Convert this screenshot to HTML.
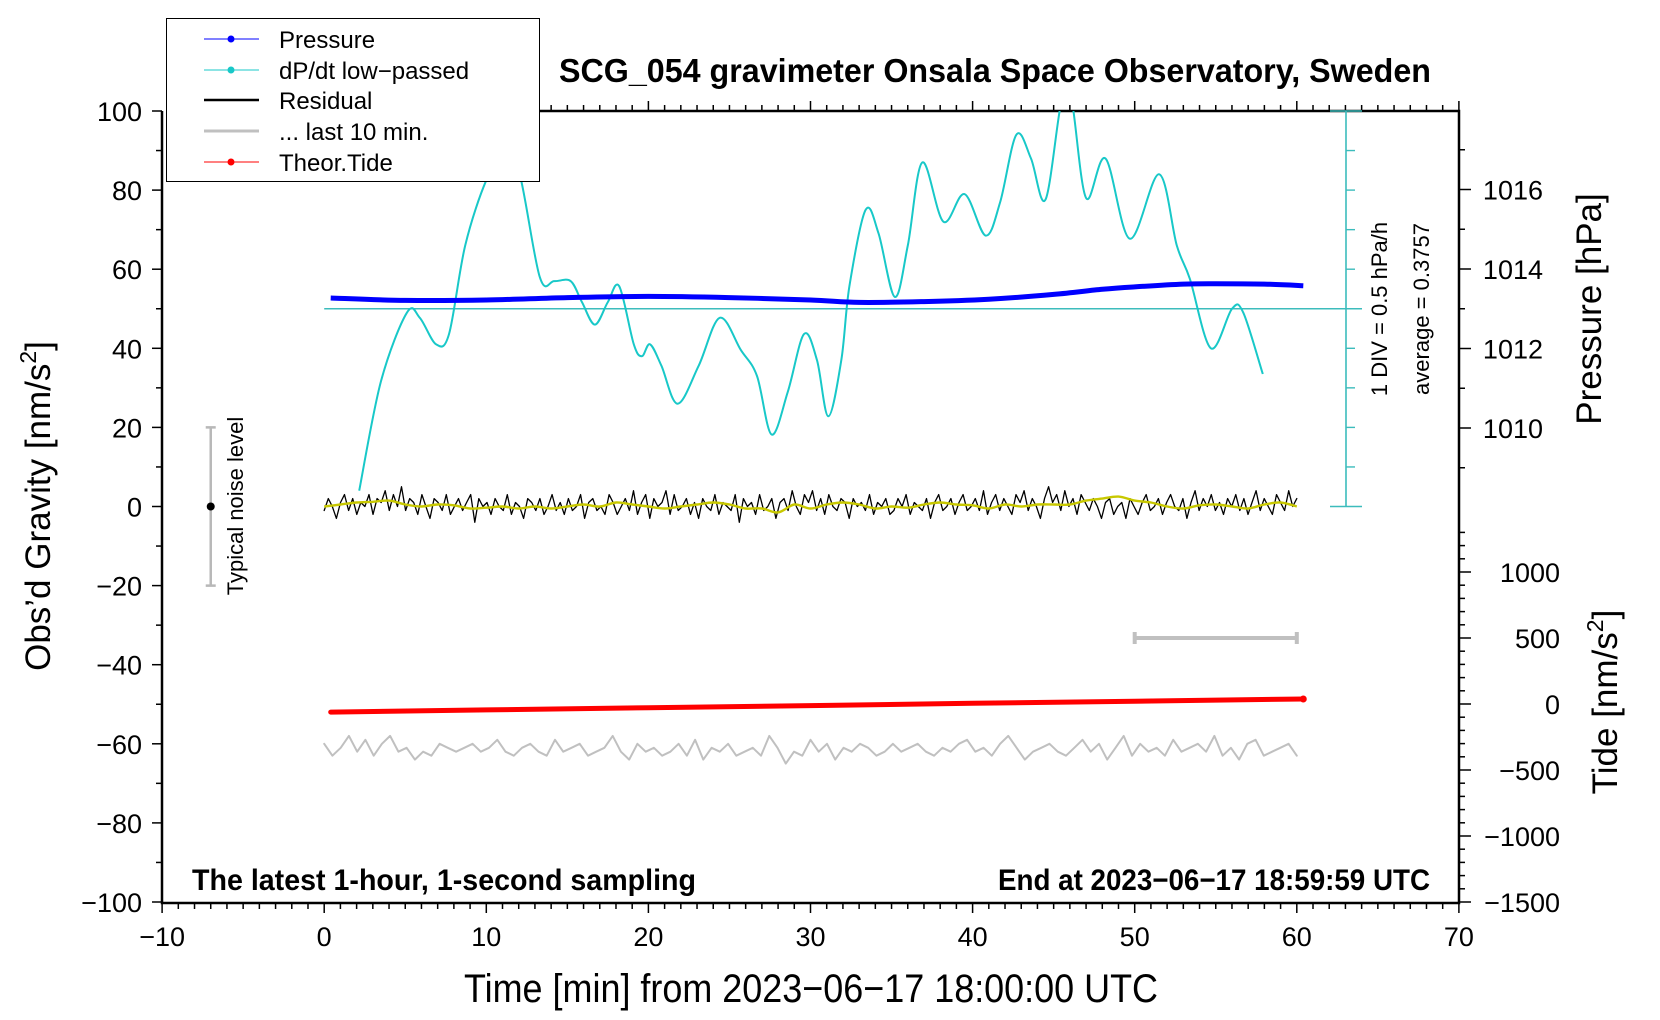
<!DOCTYPE html>
<html><head><meta charset="utf-8"><style>
html,body{margin:0;padding:0;background:#fff;}
svg{display:block;font-family:"Liberation Sans",sans-serif;}
</style></head><body>
<svg id="chart" width="1660" height="1020" viewBox="0 0 1660 1020" xmlns="http://www.w3.org/2000/svg">
<defs><clipPath id="plotclip"><rect x="162" y="111" width="1297" height="792"/></clipPath></defs>
<g id="axes"></g>
<g id="series" clip-path="url(#plotclip)"></g>
<g id="labels"></g>
</svg>
<script>
// ---- data ----
const xTicks=[-10,0,10,20,30,40,50,60,70];
const yTicks=[-100,-80,-60,-40,-20,0,20,40,60,80,100];
const pTicks=[1010,1012,1014,1016];
const tideTicks=[-1500,-1000,-500,0,500,1000];
// pressure in hPa vs minute
const pressTimes=[0.4,5,10,15,20,25,30,33,37,41,45,48,50,53,55,58,60.4];
const pressVals=[1013.27,1013.21,1013.22,1013.28,1013.31,1013.28,1013.22,1013.16,1013.18,1013.24,1013.36,1013.49,1013.55,1013.62,1013.63,1013.62,1013.58];
// dP/dt low-passed (in gravity axis units; centre line 50 = average)
const dpTimes=[2.16,3.5,5.1,5.9,6.9,7.7,8.7,10,11,12,13.3,14.2,15.2,15.9,16.7,17.5,18.2,19.1,19.6,20.1,20.8,21.8,23.1,24.4,25.7,26.7,27.6,28.6,29.6,30.4,31.1,31.9,32.4,33.4,34.2,35.2,36,36.9,38.2,39.5,40.8,41.7,42.7,43.6,44.5,45.5,46.1,47,48.2,49.7,51.5,52.6,53.4,54.7,56,56.7,57.9];
const dpVals=[4,31.6,49,47.7,41,43.6,66,82.5,88,85,58,57,57,51.7,46,51.7,55.7,41,38,41,35.6,26,35.6,47.7,39.6,33,18.2,29,43.6,37,22.8,37,55.7,75,69,53,66,87,72,79,68.5,77,94,88,77.6,103,103,78,88,67.7,84,66,57.6,40,50,49,33.5];
const dpMean=50;
// residual (nm/s^2), every 15 s
const resid=[
-1,2,0,-3,1,3,-1,2,-2,1,0,3,-2,2,1,4,-1,3,0,5,
-1,2,1,-2,3,0,-3,2,1,-1,3,-2,0,2,-1,1,3,-4,2,0,
1,-2,2,0,-1,3,-2,1,0,-3,2,1,-1,2,-2,0,3,-1,1,-2,
2,-1,0,3,-3,1,2,-1,0,-2,3,1,-2,0,2,-1,4,-2,1,3,
-3,2,0,1,4,-2,3,-1,0,2,-2,1,-3,2,0,-1,3,-2,1,0,
-1,3,-4,2,0,1,-2,3,-1,0,2,-3,1,2,-1,4,0,-2,3,1,
4,-1,2,-2,3,0,-1,2,1,-3,2,0,1,-1,3,-2,1,0,2,-2,
-1,2,0,3,-2,1,0,-1,2,-3,1,3,-1,0,2,-2,1,3,-1,0,
2,-1,4,-2,1,3,-1,2,0,-2,3,1,4,-1,2,0,-3,2,5,1,
3,-1,4,0,2,-2,3,1,-1,2,0,-3,1,2,-2,0,1,-3,2,0,
-2,1,3,-1,0,2,-2,1,3,0,-1,2,-3,1,4,-1,2,0,3,-1,
1,-2,2,0,3,-1,2,-2,1,4,-1,2,0,-2,3,1,-1,4,0,2];
// smoothed residual, per minute
const smooth=[0,0.5,1,1.2,1.5,0.5,0,0.5,0.3,-0.5,-0.3,0,-0.5,0,-0.5,0,0.5,0,1,0.5,
0,-0.5,0,0.5,1,0.5,-0.5,-0.5,-1.5,0.5,-0.5,0.5,1,0.5,-0.5,0,-0.3,0.5,1,0.5,
0.3,-0.5,0.5,0,0.5,0.5,0.5,1.5,2,2.5,1.5,1,0,-0.5,0.3,0.5,0,-0.5,0.5,1,0];
// last 10 min residual shown magnified (gravity axis units)
const lastTen=[-60,-63,-61,-58,-62,-59,-63,-60,-58,-62,-61,-64,-62,-63,-60,-61,-62,-61,-60,-62,
-61,-59,-62,-63,-61,-60,-62,-63,-59,-62,-61,-60,-63,-62,-61,-58,-62,-64,-60,-62,
-61,-63,-62,-60,-63,-59,-64,-61,-62,-60,-63,-62,-61,-63,-58,-61,-65,-62,-63,-59,
-62,-60,-64,-61,-62,-60,-61,-63,-62,-60,-62,-61,-60,-62,-63,-61,-62,-60,-59,-62,
-61,-63,-60,-58,-61,-64,-62,-61,-60,-62,-63,-61,-59,-62,-60,-64,-61,-58,-63,-60,
-62,-61,-63,-59,-62,-61,-60,-62,-58,-63,-61,-64,-60,-59,-63,-62,-61,-60,-63];
// theoretical tide (nm/s^2) vs minute
const tideTimes=[0.4,10,20,30,40,50,60.4];
const tideVals=[-61,-45,-28,-12,5,21,38];

// ---- scales ----
const X=t=>324.2+t*16.21;
const G=v=>506.5-v*3.955;
const P=p=>428-(p-1010)*39.75;
const T=v=>704-v*0.132;
const NS="http://www.w3.org/2000/svg";
function mk(tag,attrs,parent){const e=document.createElementNS(NS,tag);for(const k in attrs)e.setAttribute(k,attrs[k]);parent.appendChild(e);return e;}
const axes=document.getElementById('axes'),series=document.getElementById('series'),labels=document.getElementById('labels');
function txt(s,x,y,size,anchor,parent){const e=mk('text',{x:x,y:y,'font-size':size,'text-anchor':anchor||'middle',fill:'#000'},parent);e.textContent=s;return e;}

let el;
el=mk('path',{d:'M162 111 V903 H1459 V111 H539',fill:'none',stroke:'#000','stroke-width':2.5},axes);



for(let t=-10;t<=70;t++){const x=X(t);const maj=t%10===0;
 mk('line',{x1:x,y1:903,x2:x,y2:903+(maj?10:6),stroke:'#000','stroke-width':1.5},axes);
 if(x>545) mk('line',{x1:x,y1:111,x2:x,y2:111-(maj?10:6),stroke:'#000','stroke-width':1.5},axes);}
xTicks.forEach(t=>{el=txt(t<0?'\u2212'+(-t):String(t),X(t),946,27,'middle',labels);
 
 });
for(let v=-100;v<=100;v+=10){const y=G(v);mk('line',{x1:162,y1:y,x2:v%20===0?152:156,y2:y,stroke:'#000','stroke-width':1.5},axes);}
yTicks.forEach(v=>{el=txt(v<0?'\u2212'+(-v):String(v),142,G(v)+10,27,'end',labels);
 
 });
for(let p=1009;p<=1017;p++){const y=P(p);mk('line',{x1:1459,y1:y,x2:p%2===0?1471:1465,y2:y,stroke:'#000','stroke-width':1.5},axes);}
pTicks.forEach(p=>{el=txt(String(p),1543,P(p)+10,27,'end',labels);
 
 });
for(let v=-1500;v<=1300;v+=100){const y=T(v);mk('line',{x1:1459,y1:y,x2:v%500===0?1471:1465,y2:y,stroke:'#000','stroke-width':1.5},axes);}
tideTicks.forEach(v=>{el=txt(v<0?'\u2212'+(-v):String(v),1560,T(v)+10,27,'end',labels);
 
 });
el=mk('path',{d:'M1346 111 V506.5 M1330 111 H1362 M1330 506.5 H1362',stroke:'#3cbcbc','stroke-width':1.6,fill:'none'},axes);


for(let i=1;i<10;i++){const y=111+i*39.55;mk('line',{x1:1346,y1:y,x2:1355,y2:y,stroke:'#3cbcbc','stroke-width':1.4},axes);}
el=mk('line',{x1:X(0),y1:G(dpMean),x2:1362,y2:G(dpMean),stroke:'#3cbcbc','stroke-width':1.6},axes);



function poly(xs,ys,stroke,w,name){const pts=xs.map((x,i)=>x.toFixed(1)+','+ys[i].toFixed(1)).join(' ');
 const e=mk('polyline',{points:pts,fill:'none',stroke:stroke,'stroke-width':w,'stroke-linejoin':'round','stroke-linecap':'round'},series);
 
 return e;}
function smoothPath(xs,ys,stroke,w,name){let d='M'+xs[0].toFixed(1)+' '+ys[0].toFixed(1);
 for(let i=0;i<xs.length-1;i++){const i0=Math.max(0,i-1),i3=Math.min(xs.length-1,i+2);
  const c1x=xs[i]+(xs[i+1]-xs[i0])/6,c1y=ys[i]+(ys[i+1]-ys[i0])/6;
  const c2x=xs[i+1]-(xs[i3]-xs[i])/6,c2y=ys[i+1]-(ys[i3]-ys[i])/6;
  d+=` C${c1x.toFixed(1)} ${c1y.toFixed(1)} ${c2x.toFixed(1)} ${c2y.toFixed(1)} ${xs[i+1].toFixed(1)} ${ys[i+1].toFixed(1)}`;}
 const e=mk('path',{d:d,fill:'none',stroke:stroke,'stroke-width':w,'stroke-linejoin':'round'},series);
 
 return e;}
smoothPath(dpTimes.map(X),dpVals.map(G),'#18c8c8',2,'dpdt-line');
smoothPath(pressTimes.map(X),pressVals.map(P),'#0000ff',5,'pressure-line');
poly(resid.map((v,i)=>X(i*60/(resid.length-1))),resid.map(G),'#000',1.3,'residual-line');
smoothPath(smooth.map((v,i)=>X(i)),smooth.map(G),'#c8c800',2.4,'residual-smoothed-line');
poly(lastTen.map((v,i)=>X(i*60/(lastTen.length-1))),lastTen.map(G),'#c0c0c0',2,'last-10-min-line');
poly(tideTimes.map(X),tideVals.map(T),'#ff0000',5,'tide-line');
el=mk('circle',{cx:X(60.4),cy:T(38),r:3.5,fill:'#ff0000'},series);


el=mk('path',{d:`M${X(50)} ${T(500)} H${X(60)} M${X(50)} ${T(500)-6} V${T(500)+6} M${X(60)} ${T(500)-6} V${T(500)+6}`,stroke:'#c0c0c0','stroke-width':4,fill:'none'},series);


el=mk('path',{d:`M${X(-7)} ${G(20)} V${G(-20)} M${X(-7)-5} ${G(20)} H${X(-7)+5} M${X(-7)-5} ${G(-20)} H${X(-7)+5}`,stroke:'#b8b8b8','stroke-width':2.5,fill:'none'},series);


el=mk('circle',{cx:X(-7),cy:G(0),r:4,fill:'#000'},series);


</script>
<svg width="1660" height="1020" style="position:absolute;left:0;top:0" xmlns="http://www.w3.org/2000/svg">
<text x="995" y="82" font-size="33" font-weight="bold" text-anchor="middle" textLength="872" lengthAdjust="spacingAndGlyphs">SCG_054 gravimeter Onsala Space Observatory, Sweden</text>
<text x="192" y="890" font-size="30" font-weight="bold" textLength="504" lengthAdjust="spacingAndGlyphs">The latest 1-hour, 1-second sampling</text>
<text x="1430" y="890" font-size="30" font-weight="bold" text-anchor="end" textLength="432" lengthAdjust="spacingAndGlyphs">End at 2023−06−17 18:59:59 UTC</text>
<text x="811" y="1002" font-size="40" text-anchor="middle" textLength="694" lengthAdjust="spacingAndGlyphs">Time [min] from 2023−06−17 18:00:00 UTC</text>
<text transform="translate(50,506) rotate(-90)" font-size="35" text-anchor="middle">Obs’d Gravity [nm/s<tspan font-size="23" dy="-14">2</tspan><tspan dy="14">]</tspan></text>
<text transform="translate(1601,309) rotate(-90)" font-size="35" text-anchor="middle">Pressure [hPa]</text>
<text transform="translate(1617,702) rotate(-90)" font-size="35" text-anchor="middle">Tide [nm/s<tspan font-size="23" dy="-14">2</tspan><tspan dy="14">]</tspan></text>
<text transform="translate(1387,309) rotate(-90)" font-size="22" text-anchor="middle">1 DIV = 0.5 hPa/h</text>
<text transform="translate(1429,309) rotate(-90)" font-size="22" text-anchor="middle">average = 0.3757</text>
<text transform="translate(243,506) rotate(-90)" font-size="22" text-anchor="middle">Typical noise level</text>
<g>
<rect x="166.5" y="18.5" width="373" height="163" fill="#fff" stroke="#000" stroke-width="1"/>
<g><line x1="204" y1="39" x2="259" y2="39" stroke="#0000ff" stroke-width="1"/><circle cx="231" cy="39" r="3.5" fill="#0000ff"/><text x="279" y="48" font-size="24">Pressure</text></g>
<g><line x1="204" y1="70" x2="259" y2="70" stroke="#18c8c8" stroke-width="1"/><circle cx="231" cy="70" r="3.5" fill="#18c8c8"/><text x="279" y="79" font-size="24">dP/dt low−passed</text></g>
<g><line x1="204" y1="100" x2="259" y2="100" stroke="#000" stroke-width="2.5"/><text x="279" y="109" font-size="24">Residual</text></g>
<g><line x1="204" y1="131" x2="259" y2="131" stroke="#c0c0c0" stroke-width="3"/><text x="279" y="140" font-size="24">... last 10 min.</text></g>
<g><line x1="204" y1="162" x2="259" y2="162" stroke="#ff0000" stroke-width="1"/><circle cx="231" cy="162" r="3.5" fill="#ff0000"/><text x="279" y="171" font-size="24">Theor.Tide</text></g>
</g>
</svg>
</body></html>
